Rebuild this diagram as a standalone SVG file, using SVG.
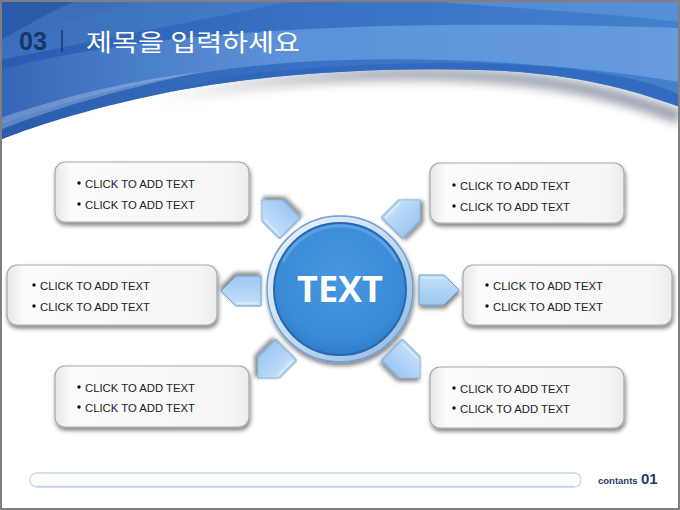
<svg xmlns="http://www.w3.org/2000/svg" width="680" height="510" viewBox="0 0 680 510">
<defs>
<linearGradient id="blueBase" x1="0" y1="0" x2="1" y2="0">
<stop offset="0" stop-color="#2a5cae"/><stop offset="0.45" stop-color="#3a71c3"/><stop offset="1" stop-color="#4480cc"/>
</linearGradient>
<linearGradient id="lightBand" x1="0" y1="0" x2="1" y2="0">
<stop offset="0" stop-color="#6a9fe0" stop-opacity="0.15"/><stop offset="0.4" stop-color="#6a9fe0" stop-opacity="0.7"/><stop offset="1" stop-color="#6ea3e2" stop-opacity="0.8"/>
</linearGradient>
<linearGradient id="shadowGrad" x1="0" y1="0" x2="1" y2="0">
<stop offset="0" stop-color="#8d96a3" stop-opacity="0"/><stop offset="0.4" stop-color="#8d96a3" stop-opacity="0.7"/><stop offset="1" stop-color="#8d96a3" stop-opacity="0.9"/>
</linearGradient>
<linearGradient id="boxFill" x1="0" y1="0" x2="1" y2="0">
<stop offset="0" stop-color="#e6e6e6"/><stop offset="0.08" stop-color="#fbfbfb"/><stop offset="0.9" stop-color="#f6f6f6"/><stop offset="1" stop-color="#ececec"/>
</linearGradient>
<linearGradient id="ringFill" x1="0" y1="0" x2="1" y2="1">
<stop offset="0" stop-color="#eef5fc"/><stop offset="0.5" stop-color="#c4dbf1"/><stop offset="1" stop-color="#8fb6df"/>
</linearGradient>
<radialGradient id="discFill" cx="0.5" cy="0.4" r="0.6">
<stop offset="0" stop-color="#4797df"/><stop offset="0.8" stop-color="#3a8bd6"/><stop offset="1" stop-color="#2f7dc9"/>
</radialGradient>
<linearGradient id="arrowFill" x1="0" y1="0" x2="0" y2="1">
<stop offset="0" stop-color="#c3e0fa"/><stop offset="1" stop-color="#9cc8f0"/>
</linearGradient>
<filter id="shadow" x="-10%" y="-20%" width="125%" height="150%">
<feGaussianBlur in="SourceAlpha" stdDeviation="2"/>
<feOffset dx="1" dy="3" result="b"/>
<feComponentTransfer><feFuncA type="linear" slope="0.5"/></feComponentTransfer>
<feMerge><feMergeNode/><feMergeNode in="SourceGraphic"/></feMerge>
</filter>
<filter id="blur6" x="-10%" y="-50%" width="120%" height="200%"><feGaussianBlur stdDeviation="5"/></filter>
<path id="arrowShape" d="M-20,-15 L5,-15 L20,0 L5,15 L-20,15 Z"/>
</defs>
<style>
.box{fill:url(#boxFill);stroke:#a8a8a8;stroke-width:1.2;filter:url(#shadow)}
.t{font-family:"Liberation Sans",Arial,sans-serif;font-size:11.3px;fill:#222}
.dot{fill:#111}
.arrow{fill:url(#arrowFill);stroke:#6f9ccc;stroke-width:1;filter:url(#shadow)}
.bevel{fill:none;stroke:#e6f3ff;stroke-width:1.5;opacity:0.8}
</style>

<rect width="680" height="510" fill="#ffffff"/>

<!-- header background -->
<g id="header">
<path d="M160,100 C260,78 380,70 480,76 C560,80 620,95 680,117" fill="none" stroke="url(#shadowGrad)" stroke-width="14" filter="url(#blur6)"/>
<path d="M0,0 H680 V107 C620,85 560,72 480,70 C380,67 260,74 170,92 C100,106 40,124 0,140 Z" fill="url(#blueBase)"/>
<path d="M0,70 C150,30 380,18 680,28 V82 C560,62 420,55 300,62 C180,70 80,95 0,125 Z" fill="url(#lightBand)"/>
<path d="M0,0 H140 C90,15 40,30 0,45 Z" fill="#2a5aa8" opacity="0.6"/>
<path d="M80,0 H300 C200,20 100,40 0,60 V40 C30,25 50,10 80,0 Z" fill="#5d92d8" opacity="0.35"/>
<path d="M420,0 H680 V22 C600,12 500,8 420,0 Z" fill="#6aa0e2" opacity="0.5"/>
<path d="M220,78 C330,62 480,58 580,70 C630,77 660,85 680,95 V107 C620,85 560,72 480,70 C380,67 260,74 170,92 Z" fill="#2e66bb" opacity="0.75"/>
<path d="M0,118 C60,98 120,82 200,72 C110,92 50,110 0,130 Z" fill="#ffffff" opacity="0.25"/>
<text x="19" y="50" font-family="Liberation Sans,Arial,sans-serif" font-weight="bold" font-size="25" fill="#163768" textLength="28" lengthAdjust="spacingAndGlyphs">03</text>
<line x1="62" y1="30" x2="62" y2="52" stroke="#163768" stroke-width="1.5"/>
<text x="86" y="51" font-family="Noto Sans CJK KR,sans-serif" font-size="24" fill="#ffffff" textLength="214" lengthAdjust="spacingAndGlyphs">제목을 입력하세요</text>
</g>

<!-- connectors: outward pentagon arrows -->
<g id="connectors">
<g transform="translate(276,214) rotate(225)"><use href="#arrowShape" class="arrow"/><path d="M-17,-12 L4,-12" class="bevel"/></g>
<g transform="translate(406,214) rotate(-45)"><use href="#arrowShape" class="arrow"/><path d="M-17,-12 L4,-12" class="bevel"/></g>
<g transform="translate(241,291) rotate(180)"><use href="#arrowShape" class="arrow"/><path d="M-17,-12 L4,-12" class="bevel"/></g>
<g transform="translate(439,290)"><use href="#arrowShape" class="arrow"/><path d="M-17,-12 L4,-12" class="bevel"/></g>
<g transform="translate(272,364) rotate(135)"><use href="#arrowShape" class="arrow"/><path d="M-17,-12 L4,-12" class="bevel"/></g>
<g transform="translate(406,364) rotate(45)"><use href="#arrowShape" class="arrow"/><path d="M-17,-12 L4,-12" class="bevel"/></g>
</g>

<!-- center node -->
<g id="center">
<circle cx="340" cy="289" r="73" fill="url(#ringFill)" stroke="#6f9fd2" stroke-width="1.5" filter="url(#shadow)"/>
<circle cx="340" cy="289" r="66" fill="url(#discFill)" stroke="#2568b2" stroke-width="2"/>
<path d="M283,262 A63,63 0 0 1 397,262" fill="none" stroke="#66aae8" stroke-width="3" opacity="0.7"/>
<text x="340" y="302" text-anchor="middle" font-family="Open Sans,Liberation Sans,sans-serif" font-weight="bold" font-size="36" fill="#ffffff">TEXT</text>
</g>

<!-- boxes -->
<g id="box-tl">
<rect x="55" y="162" width="194" height="60" rx="10" class="box"/>
<circle cx="79" cy="183" r="1.7" class="dot"/><text x="85" y="188" class="t">CLICK TO ADD TEXT</text>
<circle cx="79" cy="204" r="1.7" class="dot"/><text x="85" y="209" class="t">CLICK TO ADD TEXT</text>
</g>
<g id="box-tr">
<rect x="430" y="163" width="194" height="60" rx="10" class="box"/>
<circle cx="454" cy="185" r="1.7" class="dot"/><text x="460" y="190" class="t">CLICK TO ADD TEXT</text>
<circle cx="454" cy="206" r="1.7" class="dot"/><text x="460" y="211" class="t">CLICK TO ADD TEXT</text>
</g>
<g id="box-l">
<rect x="7" y="265" width="210" height="60" rx="10" class="box"/>
<circle cx="34" cy="285" r="1.7" class="dot"/><text x="40" y="290" class="t">CLICK TO ADD TEXT</text>
<circle cx="34" cy="306" r="1.7" class="dot"/><text x="40" y="311" class="t">CLICK TO ADD TEXT</text>
</g>
<g id="box-r">
<rect x="463" y="265" width="209" height="60" rx="10" class="box"/>
<circle cx="487" cy="285" r="1.7" class="dot"/><text x="493" y="290" class="t">CLICK TO ADD TEXT</text>
<circle cx="487" cy="306" r="1.7" class="dot"/><text x="493" y="311" class="t">CLICK TO ADD TEXT</text>
</g>
<g id="box-bl">
<rect x="55" y="366" width="194" height="61" rx="10" class="box"/>
<circle cx="79" cy="387" r="1.7" class="dot"/><text x="85" y="392" class="t">CLICK TO ADD TEXT</text>
<circle cx="79" cy="407" r="1.7" class="dot"/><text x="85" y="412" class="t">CLICK TO ADD TEXT</text>
</g>
<g id="box-br">
<rect x="430" y="367" width="194" height="61" rx="10" class="box"/>
<circle cx="454" cy="388" r="1.7" class="dot"/><text x="460" y="393" class="t">CLICK TO ADD TEXT</text>
<circle cx="454" cy="408" r="1.7" class="dot"/><text x="460" y="413" class="t">CLICK TO ADD TEXT</text>
</g>

<!-- footer -->
<g id="footer">
<rect x="30" y="473" width="551" height="14" rx="7" fill="#ffffff" stroke="#c9d9ec" stroke-width="1.5"/>
<path d="M37,486.5 H574" stroke="#b9cde6" stroke-width="1.5" opacity="0.8"/>
<text x="598" y="484" font-family="Liberation Sans,Arial,sans-serif" font-weight="bold" font-size="9.5" fill="#1f3a68">contants</text>
<text x="641" y="484" font-family="Liberation Sans,Arial,sans-serif" font-weight="bold" font-size="15" fill="#1f3a68">01</text>
</g>

<rect x="1" y="1" width="678" height="508" fill="none" stroke="#7f7f7f" stroke-width="2"/>
</svg>
